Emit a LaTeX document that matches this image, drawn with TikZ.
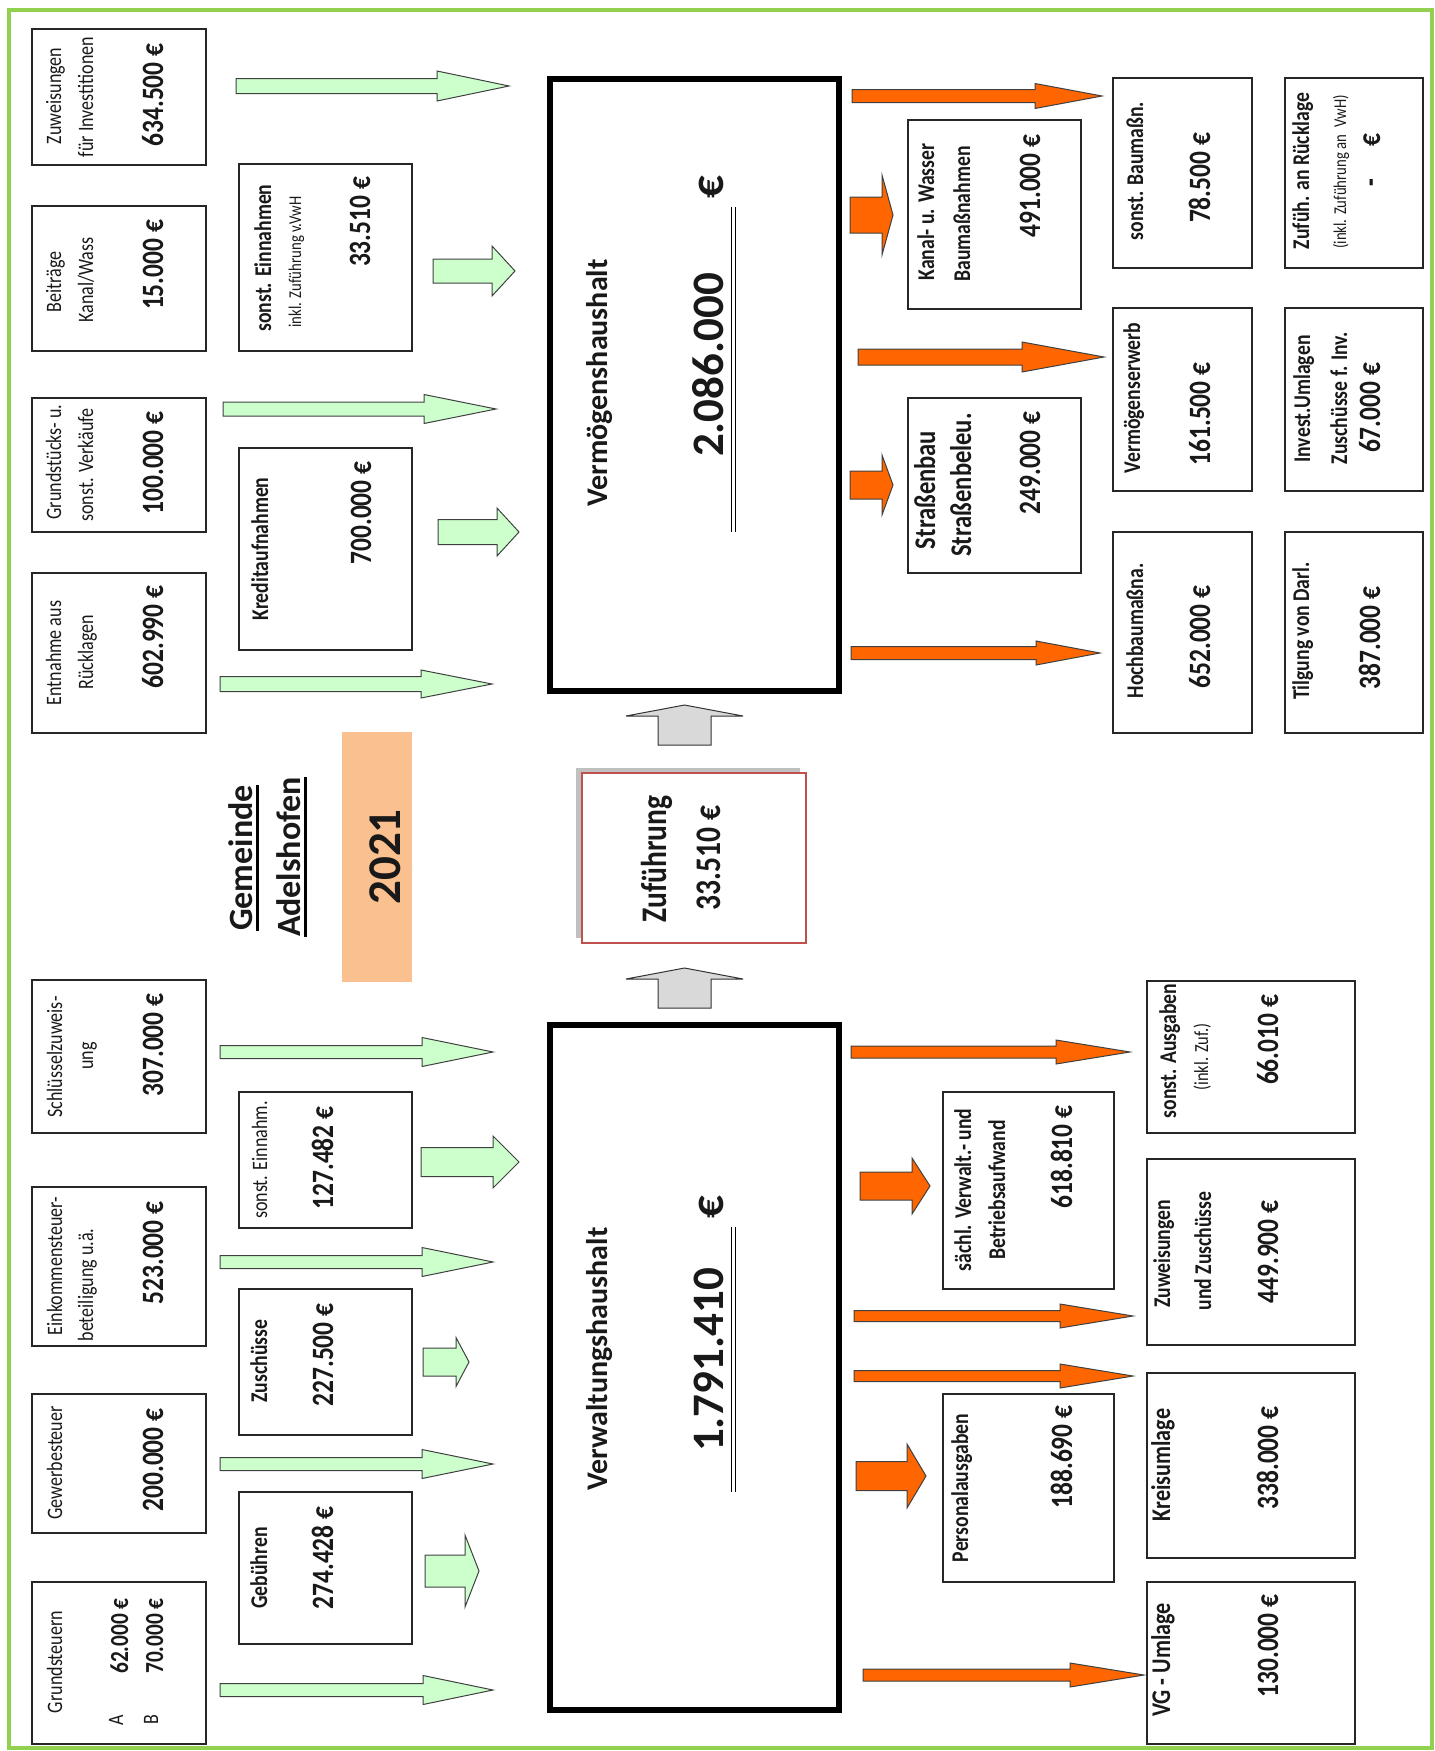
\documentclass[tikz,border=0pt]{standalone}
\usepackage{fontspec}
\setmainfont{Carlito}
\newfontfamily\narrowfont{Carlito}[FakeStretch=0.82]
\usetikzlibrary{fit,shadows}

\definecolor{rahmengruen}{HTML}{92D050}
\definecolor{pfeilgruen}{HTML}{CCFFCC}
\definecolor{pfeilorange}{HTML}{FF6600}
\definecolor{pfeilgrau}{HTML}{D9D9D9}
\definecolor{jahrfarbe}{HTML}{FAC090}
\definecolor{zurot}{HTML}{C0504D}

% blockpfeil nach rechts: stil, x start, x spitze, y mitte, halbe schaftbreite, halbe kopfbreite, kopflaenge
\newcommand{\rpfeil}[7]{\draw[#1] (#2,#4-#5) -- (#3-#7,#4-#5) -- (#3-#7,#4-#6) -- (#3,#4)
  -- (#3-#7,#4+#6) -- (#3-#7,#4+#5) -- (#2,#4+#5) -- cycle;}
% blockpfeil nach oben: stil, y fuss, y spitze, x mitte, halbe schaftbreite, halbe kopfbreite, kopflaenge
\newcommand{\opfeil}[7]{\draw[#1] (#4-#5,#2) -- (#4-#5,#3+#7) -- (#4-#6,#3+#7) -- (#4,#3)
  -- (#4+#6,#3+#7) -- (#4+#5,#3+#7) -- (#4+#5,#2) -- cycle;}

\tikzset{
  kasten/.style={draw=black!85, line width=1.3pt, inner sep=0pt},
  grosskasten/.style={draw=black, line width=6pt, inner sep=0pt},
  txt/.style={rotate=90, anchor=base, inner sep=0pt, text=black!90},
  lbl/.style={txt, font=\narrowfont\fontsize{22}{22}\selectfont},
  klein/.style={txt, font=\narrowfont\fontsize{18}{18}\selectfont},
  lblb/.style={txt, font=\narrowfont\bfseries\fontsize{24}{24}\selectfont},
  lblB/.style={txt, font=\narrowfont\bfseries\fontsize{27}{27}\selectfont},
  lblS/.style={txt, font=\narrowfont\bfseries\fontsize{30}{30}\selectfont},
  betrag/.style={txt, font=\narrowfont\bfseries\fontsize{31}{31}\selectfont},
  betragk/.style={txt, font=\narrowfont\bfseries\fontsize{26}{26}\selectfont},
  kopf/.style={txt, font=\bfseries\fontsize{30}{30}\selectfont},
  summe/.style={txt, font=\bfseries\fontsize{45}{45}\selectfont},
  titel/.style={txt, font=\bfseries\fontsize{34}{34}\selectfont},
  gpfeil/.style={draw=black!75, line width=1pt, fill=pfeilgruen},
  opfeilst/.style={draw=black!75, line width=1pt, fill=pfeilorange},
  hpfeil/.style={draw=black!80, line width=1pt, fill=pfeilgrau}
}

\begin{document}
\begin{tikzpicture}[x=1pt, y=-1pt]
		\useasboundingbox (0,0) rectangle (1435,1751);
		% rahmen
		\draw[rahmengruen, line width=4pt] (9,10) rectangle (1432,1748);

		% titel
		\node[titel] (gem) at (252,858) {Gemeinde};
		\node[titel] (adh) at (300,857) {Adelshofen};
		\draw[line width=3pt] ([xshift=5pt]gem.south west) -- ([xshift=5pt]gem.south east);
		\draw[line width=3pt] ([xshift=5pt]adh.south west) -- ([xshift=5pt]adh.south east);
		\node[fill=jahrfarbe, inner sep=0pt, fit={(342,732) (412,982)}] (jahr) {};
		\node[txt, font=\bfseries\fontsize{47}{47}\selectfont] (jahr-t) at (400,857) {2021};

		% vermoegenshaushalt
		\node[grosskasten, fit={(550,79) (839,691)}] (vmh) {};
		\node[kopf] (vmh-a) at (607,383) {Vermögenshaushalt};
		\node[summe] (vmh-b) at (723,365) {2.086.000};
		\node[summe] (vmh-c) at (723,187) {€};
		\draw[line width=1.5pt] (731.5,207) -- (731.5,532) (735.5,207) -- (735.5,532);

		% verwaltungshaushalt
		\node[grosskasten, fit={(550,1025) (839,1710)}] (vwh) {};
		\node[kopf] (vwh-a) at (607,1359) {Verwaltungshaushalt};
		\node[summe] (vwh-b) at (723,1360) {1.791.410};
		\node[summe] (vwh-c) at (723,1207) {€};
		\draw[line width=1.5pt] (731.5,1227) -- (731.5,1492) (735.5,1227) -- (735.5,1492);

		% zufuehrung
		\node[draw=zurot, line width=2.5pt, fill=white, inner sep=0pt, fit={(582,773) (806,943)},
			drop shadow={shadow xshift=-6pt, shadow yshift=5pt, opacity=.45, fill=black!55}] (zuf) {};
		\node[txt, font=\narrowfont\bfseries\fontsize{36}{36}\selectfont] (zuf-a) at (666,859) {Zuführung};
		\node[txt, font=\narrowfont\bfseries\fontsize{36}{36}\selectfont] (zuf-b) at (720,858) {33.510 €};
		\opfeil{hpfeil}{745}{705}{684.5}{26.5}{58.5}{11}
		\opfeil{hpfeil}{1008}{968}{684.5}{26.5}{58.5}{11}

		% einnahmen vermoegenshaushalt
		\node[kasten, fit={(32,29) (206,165)}] (zuw) {};
		\node[lbl] (zuw-a) at (61,96) {Zuweisungen};
		\node[lbl] (zuw-b) at (93,97) {für Investitionen};
		\node[betrag] (zuw-c) at (163,95) {634.500 €};
		\node[kasten, fit={(32,206) (206,351)}] (bei) {};
		\node[lbl] (bei-a) at (61,282) {Beiträge};
		\node[lbl] (bei-b) at (93,280) {Kanal/Wass};
		\node[betrag] (bei-c) at (163,265) {15.000 €};
		\node[kasten, fit={(32,398) (206,532)}] (gru) {};
		\node[lbl] (gru-a) at (61,462) {Grundstücks- u.};
		\node[lbl] (gru-b) at (93,465) {sonst. Verkäufe};
		\node[betrag] (gru-c) at (163,463) {100.000 €};
		\node[kasten, fit={(32,573) (206,733)}] (ent) {};
		\node[lbl] (ent-a) at (61,653) {Entnahme aus};
		\node[lbl] (ent-b) at (93,652) {Rücklagen};
		\node[betrag] (ent-c) at (163,637) {602.990 €};
		\node[kasten, fit={(239,164) (412,351)}] (sev) {};
		\node[lblb] (sev-a) at (271,258) {sonst. Einnahmen};
		\node[klein] (sev-b) at (301,262) {inkl. Zuführung v.VwH};
		\node[betrag] (sev-c) at (370,222) {33.510 €};
		\node[kasten, fit={(239,448) (412,650)}] (kre) {};
		\node[lblb] (kre-a) at (268,549) {Kreditaufnahmen};
		\node[betrag] (kre-c) at (371,513) {700.000 €};

		\rpfeil{gpfeil}{236}{509}{86}{7.5}{15}{72}
		\rpfeil{gpfeil}{433}{515}{271}{12}{25}{23}
		\rpfeil{gpfeil}{223}{496}{409}{7}{14.5}{72}
		\rpfeil{gpfeil}{438}{519}{532}{12.5}{24}{22}
		\rpfeil{gpfeil}{220}{492}{684}{7.5}{14}{71}

		% einnahmen verwaltungshaushalt
		\node[kasten, fit={(32,980) (206,1133)}] (sch) {};
		\node[lbl] (sch-a) at (62,1057) {Schlüsselzuweis-};
		\node[lbl] (sch-b) at (93,1056) {ung};
		\node[betrag] (sch-c) at (163,1045) {307.000 €};
		\node[kasten, fit={(32,1187) (206,1346)}] (ein) {};
		\node[lbl] (ein-a) at (62,1266) {Einkommensteuer-};
		\node[lbl] (ein-b) at (93,1285) {beteiligung u.ä.};
		\node[betrag] (ein-c) at (163,1253) {523.000 €};
		\node[kasten, fit={(32,1394) (206,1533)}] (gew) {};
		\node[lbl] (gew-a) at (62,1463) {Gewerbesteuer};
		\node[betrag] (gew-c) at (163,1460) {200.000 €};
		\node[kasten, fit={(32,1582) (206,1744)}] (grs) {};
		\node[lbl] (grs-a) at (62,1662) {Grundsteuern};
		\node[lbl] (grs-b) at (123,1720) {A};
		\node[lbl] (grs-c) at (158,1720) {B};
		\node[betragk] (grs-d) at (128,1636) {62.000 €};
		\node[betragk] (grs-e) at (163,1636) {70.000 €};
		\node[kasten, fit={(239,1092) (412,1228)}] (sew) {};
		\node[lbl] (sew-a) at (267,1160) {sonst. Einnahm.};
		\node[betrag] (sew-c) at (333,1158) {127.482 €};
		\node[kasten, fit={(239,1289) (412,1435)}] (zus) {};
		\node[lblb] (zus-a) at (267,1361) {Zuschüsse};
		\node[betrag] (zus-c) at (333,1355) {227.500 €};
		\node[kasten, fit={(239,1492) (412,1644)}] (geb) {};
		\node[lblb] (geb-a) at (267,1568) {Gebühren};
		\node[betrag] (geb-c) at (333,1558) {274.428 €};

		\rpfeil{gpfeil}{220}{493}{1052}{6.5}{14.5}{71}
		\rpfeil{gpfeil}{421}{519}{1162}{14.5}{26}{26}
		\rpfeil{gpfeil}{220}{493}{1262}{6.5}{14.5}{71}
		\rpfeil{gpfeil}{423}{469}{1362}{14}{24.5}{13}
		\rpfeil{gpfeil}{220}{493}{1464}{6.5}{14.5}{71}
		\rpfeil{gpfeil}{425}{479}{1571}{16}{36}{14}
		\rpfeil{gpfeil}{220}{493}{1690}{6.5}{14.5}{70}

		% ausgaben vermoegenshaushalt
		\node[kasten, fit={(908,120) (1081,309)}] (kan) {};
		\node[lblb] (kan-a) at (934,212) {Kanal- u. Wasser};
		\node[lblb] (kan-b) at (970,214) {Baumaßnahmen};
		\node[betrag] (kan-c) at (1040,186) {491.000 €};
		\node[kasten, fit={(908,398) (1081,573)}] (str) {};
		\node[lblS] (str-a) at (935,490) {Straßenbau};
		\node[lblS] (str-b) at (971,485) {Straßenbeleu.};
		\node[betrag] (str-c) at (1040,463) {249.000 €};
		\node[kasten, fit={(1113,78) (1252,268)}] (sba) {};
		\node[lblb] (sba-a) at (1143,171) {sonst. Baumaßn.};
		\node[betrag] (sba-c) at (1210,178) {78.500 €};
		\node[kasten, fit={(1113,308) (1252,491)}] (ver) {};
		\node[lblb] (ver-a) at (1140,398) {Vermögenserwerb};
		\node[betrag] (ver-c) at (1210,414) {161.500 €};
		\node[kasten, fit={(1113,532) (1252,733)}] (hoc) {};
		\node[lblb] (hoc-a) at (1143,631) {Hochbaumaßna.};
		\node[betrag] (hoc-c) at (1210,637) {652.000 €};
		\node[kasten, fit={(1285,78) (1423,268)}] (zrl) {};
		\node[lblb] (zrl-a) at (1309,171) {Zufüh. an Rücklage};
		\node[klein] (zrl-b) at (1346,172) {(inkl. Zuführung an\ \ VwH)};
		\node[betrag] (zrl-c) at (1380,183) {-};
		\node[betrag] (zrl-d) at (1380,140) {€};
		\node[kasten, fit={(1285,308) (1423,491)}] (inv) {};
		\node[lblb] (inv-a) at (1310,399) {Invest.Umlagen};
		\node[lblb] (inv-b) at (1347,398) {Zuschüsse f. Inv.};
		\node[betrag] (inv-c) at (1380,408) {67.000 €};
		\node[kasten, fit={(1285,532) (1423,733)}] (til) {};
		\node[lblb] (til-a) at (1309,631) {Tilgung von Darl.};
		\node[betrag] (til-c) at (1380,638) {387.000 €};

		\rpfeil{opfeilst}{852}{1102}{96}{6.5}{12.5}{67}
		\rpfeil{opfeilst}{850}{893}{215}{18}{40}{11}
		\rpfeil{opfeilst}{858}{1104}{357}{8}{15}{82}
		\rpfeil{opfeilst}{850}{893}{485}{14}{30}{11}
		\rpfeil{opfeilst}{851}{1100}{653}{6.5}{12}{64}

		% ausgaben verwaltungshaushalt
		\node[kasten, fit={(943,1092) (1114,1289)}] (sae) {};
		\node[lblb] (sae-a) at (971,1190) {sächl. Verwalt.- und};
		\node[lblb] (sae-b) at (1005,1190) {Betriebsaufwand};
		\node[betrag] (sae-c) at (1072,1157) {618.810 €};
		\node[kasten, fit={(943,1394) (1114,1582)}] (per) {};
		\node[lblb] (per-a) at (968,1488) {Personalausgaben};
		\node[betrag] (per-c) at (1072,1457) {188.690 €};
		\node[kasten, fit={(1147,981) (1355,1133)}] (sag) {};
		\node[lblb] (sag-a) at (1176,1051) {sonst. Ausgaben};
		\node[klein, font=\narrowfont\fontsize{20}{20}\selectfont] (sag-b) at (1208,1057) {(inkl. Zuf.)};
		\node[betrag] (sag-c) at (1278,1040) {66.010 €};
		\node[kasten, fit={(1147,1159) (1355,1345)}] (zwz) {};
		\node[lblb] (zwz-a) at (1170,1254) {Zuweisungen};
		\node[lblb] (zwz-b) at (1211,1251) {und Zuschüsse};
		\node[betrag] (zwz-c) at (1278,1252) {449.900 €};
		\node[kasten, fit={(1147,1373) (1355,1558)}] (kru) {};
		\node[lblB] (kru-a) at (1170,1465) {Kreisumlage};
		\node[betrag] (kru-c) at (1278,1458) {338.000 €};
		\node[kasten, fit={(1147,1582) (1355,1744)}] (vgu) {};
		\node[lblB] (vgu-a) at (1170,1660) {VG - Umlage};
		\node[betrag] (vgu-c) at (1278,1646) {130.000 €};

		\rpfeil{opfeilst}{851}{1130}{1052}{6}{12}{74}
		\rpfeil{opfeilst}{860}{930}{1186}{14}{28}{18}
		\rpfeil{opfeilst}{854}{1133}{1316}{5.5}{12}{73}
		\rpfeil{opfeilst}{854}{1133}{1376}{5.5}{12}{73}
		\rpfeil{opfeilst}{856}{926}{1476}{14.5}{32}{19}
		\rpfeil{opfeilst}{863}{1144}{1675}{6}{12}{74}
	\end{tikzpicture}
\end{document}
